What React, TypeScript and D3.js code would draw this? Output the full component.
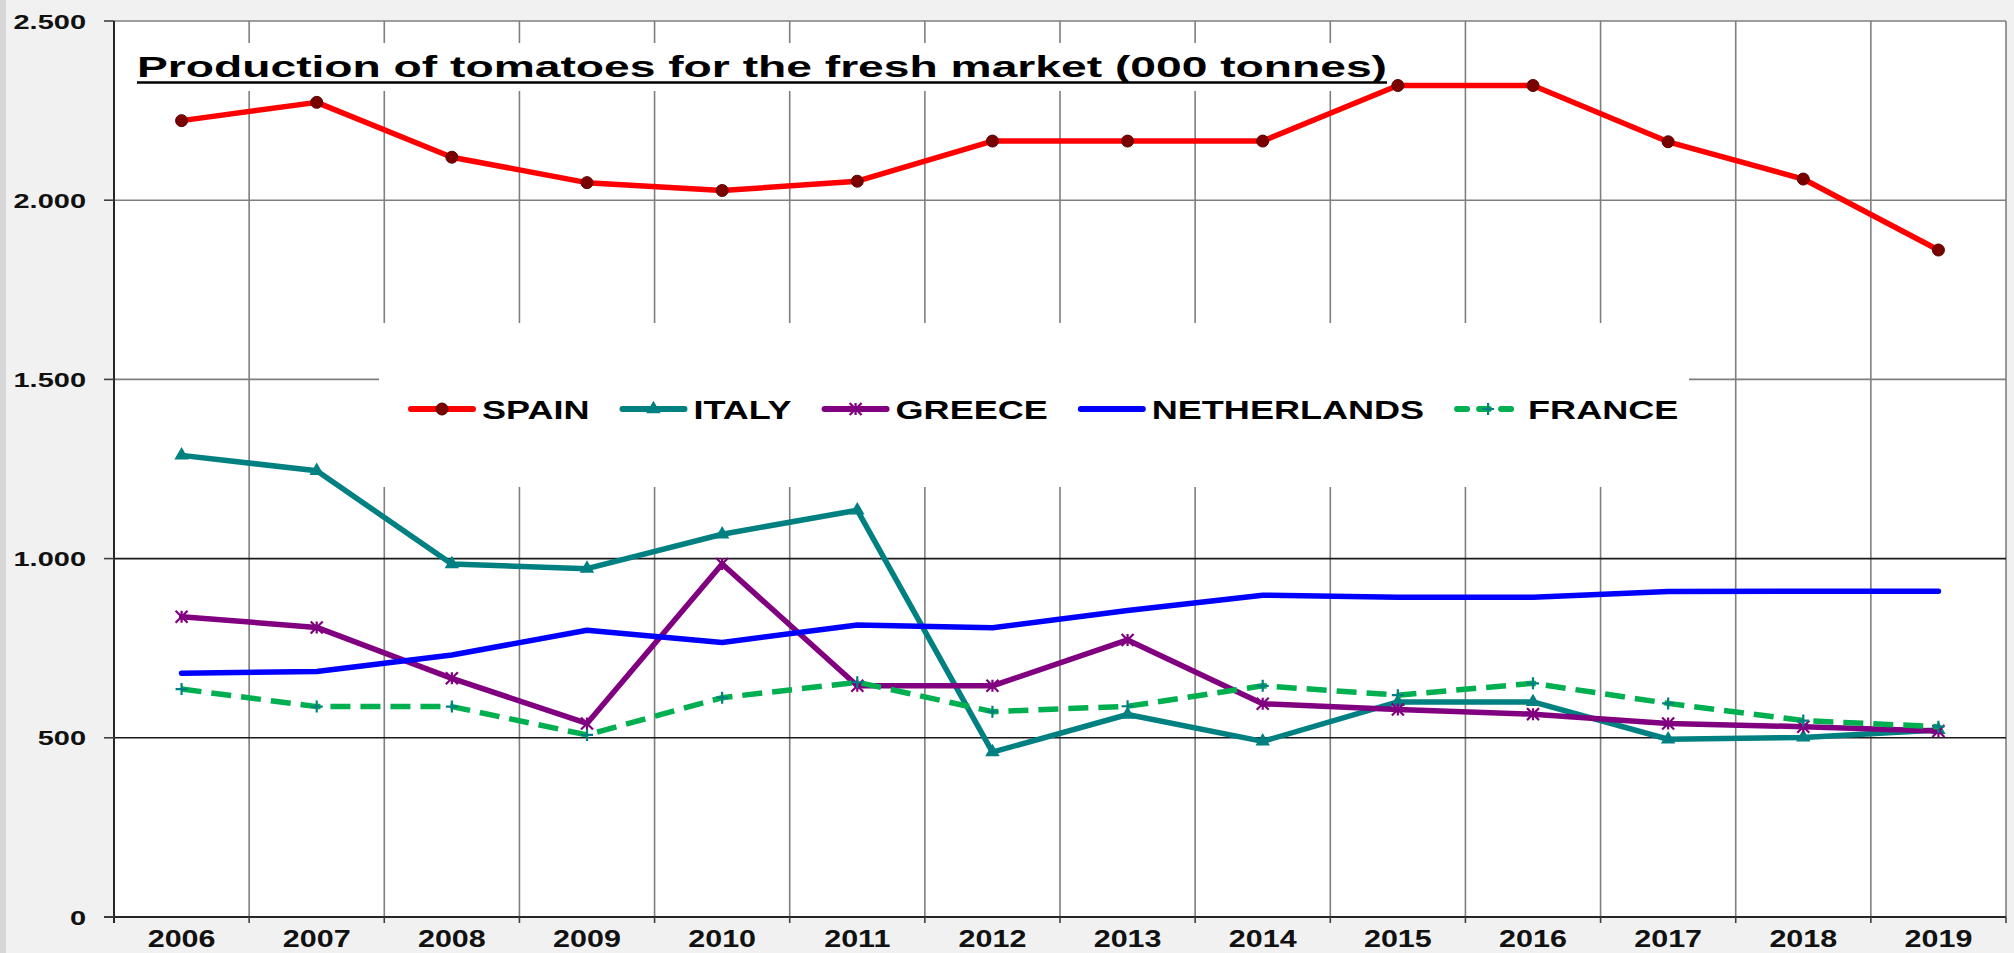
import React, { useEffect, useRef } from 'react';
import * as d3 from 'd3';

const years = ['2006', '2007', '2008', '2009', '2010', '2011', '2012', '2013', '2014', '2015', '2016', '2017', '2018', '2019'];
const spain = [2222, 2273, 2120, 2049, 2027, 2053, 2165, 2165, 2165, 2320, 2320, 2163, 2059, 1861];
const italy = [1288, 1245, 985, 972, 1068, 1135, 460, 565, 490, 600, 600, 496, 501, 522];
const greece = [838, 808, 666, 540, 985, 645, 645, 773, 595, 579, 566, 540, 531, 519];
const netherlands = [680, 685, 731, 800, 766, 815, 807, 855, 898, 892, 892, 908, 909, 909];
const france = [636, 587, 587, 508, 612, 655, 573, 588, 645, 619, 652, 596, 548, 531];
const yTicks = [0, 500, 1000, 1500, 2000, 2500];
const seriesNames = ['SPAIN', 'ITALY', 'GREECE', 'NETHERLANDS', 'FRANCE'];
const titleText = 'Production of tomatoes for the fresh market (000 tonnes)';

const W = 2014;
const H = 953;
const FONT = 'Arial, "Liberation Sans", Helvetica, sans-serif';

type Marker = 'circle' | 'triangle' | 'star' | 'none' | 'plus';
interface Series { name: string; values: number[]; color: string; marker: Marker; markerColor: string; dash?: string; }

const series: Series[] = [
  { name: seriesNames[0], values: spain, color: '#ff0000', marker: 'circle', markerColor: '#7a0000' },
  { name: seriesNames[1], values: italy, color: '#008080', marker: 'triangle', markerColor: '#008080' },
  { name: seriesNames[2], values: greece, color: '#800080', marker: 'star', markerColor: '#800080' },
  { name: seriesNames[3], values: netherlands, color: '#0000ff', marker: 'none', markerColor: '#0000ff' },
  { name: seriesNames[4], values: france, color: '#00b050', marker: 'plus', markerColor: '#008080', dash: '20,10' },
];

function drawMarker(g: d3.Selection<SVGGElement, unknown, null, undefined>, m: Marker, cx: number, cy: number, color: string) {
  if (m === 'circle') {
    g.append('circle').attr('cx', cx).attr('cy', cy).attr('r', 6).attr('fill', color).attr('stroke', '#5a0000').attr('stroke-width', 1);
  } else if (m === 'triangle') {
    g.append('path').attr('d', d3.symbol().type(d3.symbolTriangle).size(90)()).attr('transform', `translate(${cx},${cy})`).attr('fill', color);
  } else if (m === 'star') {
    const s = 6;
    g.append('path')
      .attr('d', `M${cx - s},${cy - s}L${cx + s},${cy + s}M${cx - s},${cy + s}L${cx + s},${cy - s}M${cx},${cy - s}L${cx},${cy + s}`)
      .attr('stroke', color).attr('stroke-width', 2.2).attr('fill', 'none');
  } else if (m === 'plus') {
    const s = 6;
    g.append('path')
      .attr('d', `M${cx - s},${cy}L${cx + s},${cy}M${cx},${cy - s}L${cx},${cy + s}`)
      .attr('stroke', color).attr('stroke-width', 2.2).attr('fill', 'none');
  }
}

export default function App() {
  const ref = useRef<SVGSVGElement>(null);
  useEffect(() => {
    const svg = d3.select(ref.current);
    svg.selectAll('*').remove();

    const left = 114, right = 2006, top = 21, bottom = 917;
    const x = d3.scaleBand<string>().domain(years).range([left, right]).paddingInner(0).paddingOuter(0);
    const y = d3.scaleLinear().domain([0, 2500]).range([bottom, top]);
    const cx = (yr: string) => (x(yr) as number) + x.bandwidth() / 2;
    const locale = d3.formatLocale({ decimal: ',', thousands: '.', grouping: [3], currency: ['', '€'] });
    const fmt = locale.format(',d');

    // backgrounds
    svg.append('rect').attr('x', 0).attr('y', 0).attr('width', W).attr('height', H).attr('fill', '#f1f1f1');
    svg.append('rect').attr('x', 0).attr('y', 0).attr('width', 6).attr('height', H).attr('fill', '#d8d8d8');
    svg.append('rect').attr('x', left).attr('y', top).attr('width', right - left).attr('height', bottom - top).attr('fill', '#ffffff');

    const grid = svg.append('g');
    years.forEach((yr, i) => {
      if (i === 0) return;
      const gx = x(yr) as number;
      grid.append('line').attr('x1', gx).attr('x2', gx).attr('y1', top).attr('y2', bottom).attr('stroke', '#7f7f7f').attr('stroke-width', 1.6);
    });
    grid.append('line').attr('x1', right).attr('x2', right).attr('y1', top).attr('y2', bottom).attr('stroke', '#7f7f7f').attr('stroke-width', 1.6);
    yTicks.forEach((t) => {
      if (t === 0) return;
      const dark = t <= 1000;
      grid.append('line').attr('x1', left).attr('x2', right).attr('y1', y(t)).attr('y2', y(t))
        .attr('stroke', dark ? '#1a1a1a' : '#7f7f7f').attr('stroke-width', 1.6);
    });

    // title and legend white boxes
    svg.append('rect').attr('x', 128).attr('y', 43).attr('width', 1272).attr('height', 48).attr('fill', '#ffffff');
    svg.append('rect').attr('x', 379).attr('y', 323).attr('width', 1310).attr('height', 164).attr('fill', '#ffffff');

    // axes
    const ax = svg.append('g');
    ax.append('line').attr('x1', left).attr('x2', left).attr('y1', top).attr('y2', bottom + 6).attr('stroke', '#262626').attr('stroke-width', 2);
    ax.append('line').attr('x1', left - 10).attr('x2', right).attr('y1', bottom).attr('y2', bottom).attr('stroke', '#262626').attr('stroke-width', 2);
    yTicks.forEach((t) => {
      ax.append('line').attr('x1', left - 10).attr('x2', left).attr('y1', y(t)).attr('y2', y(t)).attr('stroke', '#404040').attr('stroke-width', 1.6);
      ax.append('text')
        .attr('transform', `translate(86,${y(t) + 7.5}) scale(1.38,1)`)
        .attr('text-anchor', 'end')
        .attr('font-family', FONT).attr('font-weight', 'bold').attr('font-size', 21).attr('fill', '#111')
        .text(fmt(t));
    });
    years.forEach((yr) => {
      const bx = x(yr) as number;
      ax.append('line').attr('x1', bx + x.bandwidth()).attr('x2', bx + x.bandwidth()).attr('y1', bottom).attr('y2', bottom + 6).attr('stroke', '#404040').attr('stroke-width', 1.6);
      ax.append('text')
        .attr('transform', `translate(${cx(yr)},947) scale(1.27,1)`)
        .attr('text-anchor', 'middle')
        .attr('font-family', FONT).attr('font-weight', 'bold').attr('font-size', 24).attr('fill', '#111')
        .text(yr);
    });

    // series
    const lineGen = d3.line<number>().x((_, i) => cx(years[i])).y((v) => y(v));
    const sg = svg.append('g');
    series.forEach((s) => {
      sg.append('path').attr('d', lineGen(s.values) as string)
        .attr('fill', 'none').attr('stroke', s.color).attr('stroke-width', 5.5)
        .attr('stroke-linejoin', 'round').attr('stroke-linecap', s.dash ? 'butt' : 'round')
        .attr('stroke-dasharray', s.dash || null);
      const mg = sg.append('g');
      s.values.forEach((v, i) => drawMarker(mg as any, s.marker, cx(years[i]), y(v), s.markerColor));
    });

    // title
    svg.append('text')
      .attr('x', 137).attr('y', 77)
      .attr('textLength', 1250).attr('lengthAdjust', 'spacingAndGlyphs')
      .attr('font-family', FONT).attr('font-weight', 'bold').attr('font-size', 30).attr('fill', '#000')
      .text(titleText);
    svg.append('line').attr('x1', 137).attr('x2', 1387).attr('y1', 82.5).attr('y2', 82.5).attr('stroke', '#000').attr('stroke-width', 2.5);

    // legend
    const canvas = document.createElement('canvas');
    const ctx = canvas.getContext('2d') as CanvasRenderingContext2D;
    const lfs = 26.5;
    const lsx = 1.36;
    ctx.font = `bold ${lfs}px ${FONT}`;
    const lg = svg.append('g');
    let cursor = 408;
    const ly = 409;
    series.forEach((s) => {
      const symW = 68;
      lg.append('line').attr('x1', cursor + 3).attr('x2', cursor + symW - 3).attr('y1', ly).attr('y2', ly)
        .attr('stroke', s.color).attr('stroke-width', 6)
        .attr('stroke-linecap', 'round')
        .attr('stroke-dasharray', s.dash ? '10,12' : null);
      drawMarker(lg as any, s.marker, cursor + symW / 2, ly, s.markerColor);
      const tx = cursor + symW + 6;
      lg.append('text')
        .attr('transform', `translate(${tx},${ly + 9.5}) scale(${lsx},1)`)
        .attr('font-family', FONT).attr('font-weight', 'bold').attr('font-size', lfs).attr('fill', '#000')
        .text(s.name);
      const tw = ctx.measureText(s.name).width * lsx;
      cursor = tx + tw + 30;
    });
  }, []);
  return <svg ref={ref} width={W} height={H} style={{ position: 'absolute', left: 0, top: 0, display: 'block' }} />;
}
